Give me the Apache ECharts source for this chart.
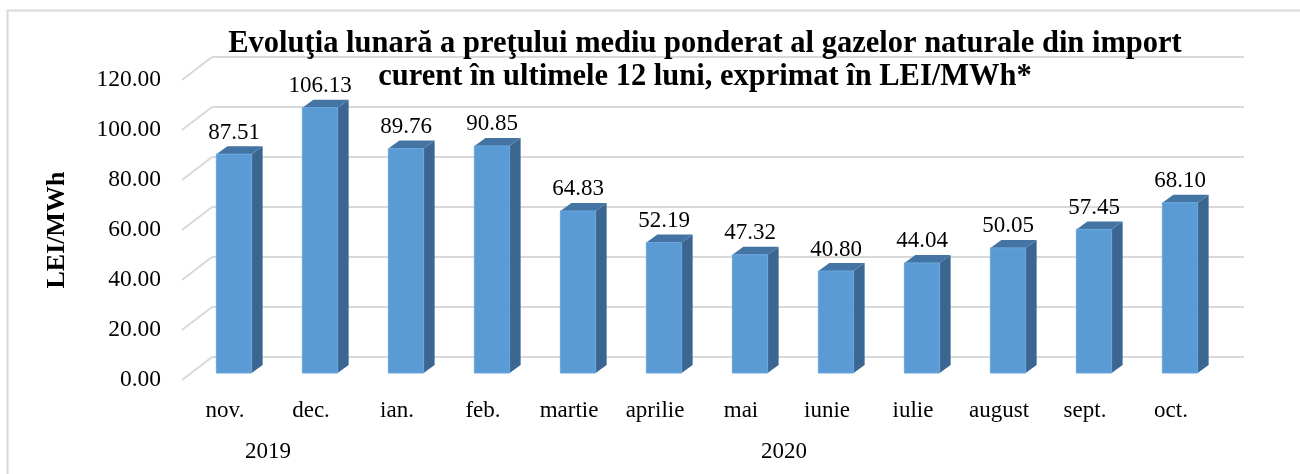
<!DOCTYPE html>
<html>
<head>
<meta charset="utf-8">
<script src="https://cdn.jsdelivr.net/npm/echarts@6/dist/echarts.min.js"></script>
<style>
  html, body { margin: 0; padding: 0; background: #fff; }
  #main { width: 1300px; height: 474px; }
</style>
</head>
<body>
<div id="main"></div>
<script>
  // date din grafic
  const luni = ['nov.', 'dec.', 'ian.', 'feb.', 'martie', 'aprilie', 'mai', 'iunie', 'iulie', 'august', 'sept.', 'oct.'];
  const preturi = [87.51, 106.13, 89.76, 90.85, 64.83, 52.19, 47.32, 40.80, 44.04, 50.05, 57.45, 68.10];
  const ani = ['2019', '2020'];
  const aniPoz = [1, 7];
  const yTicks = [0, 20, 40, 60, 80, 100, 120];

  const font = "'Liberation Serif', 'Times New Roman', serif";
  const depthX = 11, depthY = 8;

  const chart = echarts.init(document.getElementById('main'));

  chart.setOption({
    animation: false,
    textStyle: { fontFamily: font },
    title: {
      text: 'Evoluţia lunară a preţului mediu ponderat al gazelor naturale din import\ncurent în ultimele 12 luni, exprimat în LEI/MWh*',
      left: 700,
      top: 23,
      textAlign: 'center',
      textStyle: {
        fontFamily: font,
        fontWeight: 'bold',
        fontSize: 30.5,
        lineHeight: 33,
        color: '#000',
        align: 'center'
      }
    },
    graphic: [{
      type: 'rect',
      shape: { x: 7.5, y: 10.5, width: 1300, height: 470 },
      style: { fill: 'none', stroke: '#d9d9d9', lineWidth: 2 },
      silent: true
    }],
    grid: [
      // peretele din spate
      { left: 212, top: 57, width: 1032, height: 300 },
      // planul barelor
      { left: 191, top: 73, width: 1032, height: 300 },
      // planul din fata (etichete)
      { left: 182, top: 80, width: 1032, height: 300 }
    ],
    xAxis: [
      { gridIndex: 0, type: 'category', data: luni, show: false },
      { gridIndex: 1, type: 'category', data: luni, show: false },
      {
        gridIndex: 2, type: 'category', data: luni,
        axisLine: { show: false }, axisTick: { show: false },
        axisLabel: { fontSize: 23, color: '#000', margin: 19, fontFamily: font }
      },
      {
        gridIndex: 2, type: 'value', min: 0, max: 12, position: 'bottom', offset: 52,
        axisLine: { show: false }, axisTick: { show: false }, splitLine: { show: false },
        axisLabel: {
          customValues: aniPoz,
          fontSize: 23, color: '#000', fontFamily: font,
          formatter: v => ani[aniPoz.indexOf(v)] || ''
        }
      }
    ],
    yAxis: [
      {
        gridIndex: 0, type: 'value', min: 0, max: 120, interval: 20,
        axisLine: { show: false }, axisTick: { show: false }, axisLabel: { show: false },
        splitLine: { lineStyle: { color: '#d9d9d9', width: 2 } }
      },
      { gridIndex: 1, type: 'value', min: 0, max: 120, interval: 20, show: false },
      {
        gridIndex: 2, type: 'value', min: 0, max: 120, interval: 20,
        name: 'LEI/MWh', nameLocation: 'middle', nameGap: 112, nameRotate: 90,
        nameTextStyle: { fontSize: 26, fontWeight: 'bold', color: '#000', fontFamily: font },
        axisLine: { show: false }, axisTick: { show: false }, splitLine: { show: false },
        axisLabel: { fontSize: 23.5, color: '#000', margin: 21, fontFamily: font, formatter: v => v.toFixed(2) }
      }
    ],
    series: [
      {
        // liniile diagonale din stanga
        type: 'custom',
        xAxisIndex: 0, yAxisIndex: 0,
        data: yTicks.map(v => [0, v]),
        silent: true,
        renderItem: function (params, api) {
          const y = api.coord([0, api.value(1)])[1];
          const x0 = params.coordSys.x;
          return {
            type: 'line',
            shape: { x1: x0, y1: y, x2: x0 - 30, y2: y + 23 },
            style: { stroke: '#d9d9d9', lineWidth: 2 }
          };
        }
      },
      {
        type: 'custom',
        xAxisIndex: 1, yAxisIndex: 1,
        data: preturi.map((v, i) => [i, v]),
        renderItem: function (params, api) {
          const val = api.value(1);
          const top = api.coord([api.value(0), val]);
          const base = api.coord([api.value(0), 0]);
          const w = api.size([1, 0])[0] * 0.41;
          const l = top[0] - w / 2, r = top[0] + w / 2;
          return {
            type: 'group',
            children: [
              {
                type: 'polygon',
                shape: { points: [[r, top[1]], [r + depthX, top[1] - depthY], [r + depthX, base[1] - depthY], [r, base[1]]] },
                style: { fill: '#3b6691' }
              },
              {
                type: 'polygon',
                shape: { points: [[l, top[1]], [r, top[1]], [r + depthX, top[1] - depthY], [l + depthX, top[1] - depthY]] },
                style: { fill: '#4474a4' }
              },
              {
                type: 'rect',
                shape: { x: l, y: top[1], width: w, height: base[1] - top[1] },
                style: { fill: '#5b9bd5', stroke: '#6aa6dc', lineWidth: 1 }
              },
              {
                type: 'text',
                x: top[0],
                y: top[1] - depthY - 2,
                style: {
                  text: val.toFixed(2),
                  fontFamily: font, fontSize: 23, fill: '#000',
                  align: 'center', verticalAlign: 'bottom'
                }
              }
            ]
          };
        }
      }
    ]
  });
</script>
</body>
</html>
